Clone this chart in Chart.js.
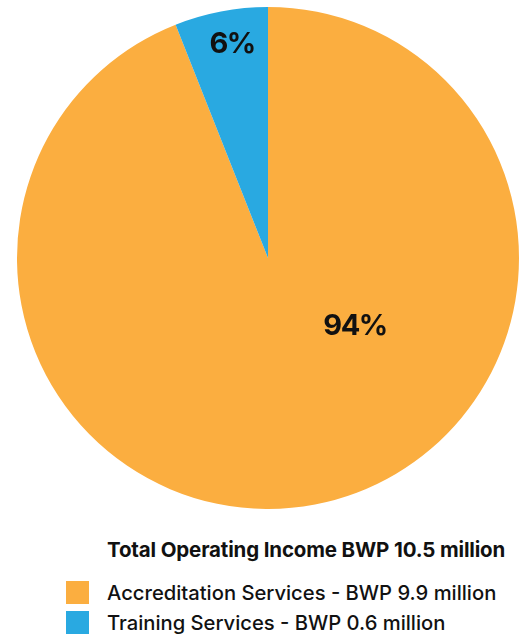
<!DOCTYPE html>
<html lang="en">
<head>
    <meta charset="UTF-8">
    <title>Operating Income</title>
    <style>
        * { margin: 0; padding: 0; box-sizing: border-box; }
        body {
            width: 531px;
            height: 637px;
            background: #fff;
            font-family: Inter, "Noto Sans", Arial, sans-serif;
            color: #111;
            overflow: hidden;
        }
        .chart-box {
            position: relative;
            width: 531px;
            height: 520px;
        }
        .total {
            position: absolute;
            left: 107px;
            top: 537px;
            font-size: 20.5px;
            font-weight: 700;
            letter-spacing: -0.15px;
        }
        #legend {
            position: absolute;
            left: 66px;
            top: 577px;
        }
        .item {
            display: flex;
            align-items: center;
            height: 30px;
            font-size: 20.2px;
            font-weight: 500;
        }
        .swatch {
            width: 23px;
            height: 23px;
            margin-right: 18px;
        }
    </style>
</head>
<body>
    <div class="chart-box">
        <canvas id="pieChart"></canvas>
    </div>
    <div class="total" id="total"></div>
    <div id="legend"></div>

    <script src="https://cdn.jsdelivr.net/npm/chart.js"></script>
    <script>
        const categories = ['Accreditation Services', 'Training Services'];
        const amounts = [9.9, 0.6];          // BWP million
        const shares = [94, 6];              // percent of total
        const totalIncome = 10.5;
        const colors = ['#FBAE40', '#29A9E1'];

        // where each percentage sits: angle in degrees from 12 o'clock (clockwise), fraction of radius
        const labelSpots = [
            { angle: 128, dist: 0.44 },
            { angle: -9.5, dist: 0.865 }
        ];

        const percentLabels = {
            id: 'percentLabels',
            afterDatasetsDraw(chart) {
                const ctx = chart.ctx;
                const meta = chart.getDatasetMeta(0);
                ctx.save();
                ctx.font = '700 29px Inter, "Noto Sans", Arial, sans-serif';
                ctx.letterSpacing = '-1.5px';
                ctx.fillStyle = '#111';
                ctx.textAlign = 'center';
                ctx.textBaseline = 'middle';
                meta.data.forEach((arc, i) => {
                    const spot = labelSpots[i];
                    const a = (spot.angle - 90) * Math.PI / 180;
                    const r = arc.outerRadius * spot.dist;
                    ctx.fillText(shares[i] + '%', arc.x + Math.cos(a) * r, arc.y + Math.sin(a) * r);
                });
                ctx.restore();
            }
        };

        new Chart(document.getElementById('pieChart'), {
            type: 'pie',
            data: {
                labels: categories,
                datasets: [{
                    data: shares,
                    backgroundColor: colors,
                    borderWidth: 0
                }]
            },
            options: {
                responsive: true,
                maintainAspectRatio: false,
                animation: false,
                layout: { padding: { top: 7, bottom: 11, left: 17, right: 12 } },
                plugins: {
                    legend: { display: false },
                    tooltip: { enabled: false }
                }
            },
            plugins: [percentLabels]
        });

        document.getElementById('total').textContent =
            'Total Operating Income BWP ' + totalIncome + ' million';

        document.getElementById('legend').innerHTML = categories.map((c, i) => `
            <div class="item">
                <span class="swatch" style="background:${colors[i]}"></span>
                <span>${c} - BWP ${amounts[i].toFixed(1)} million</span>
            </div>
        `).join('');
    </script>
</body>
</html>
